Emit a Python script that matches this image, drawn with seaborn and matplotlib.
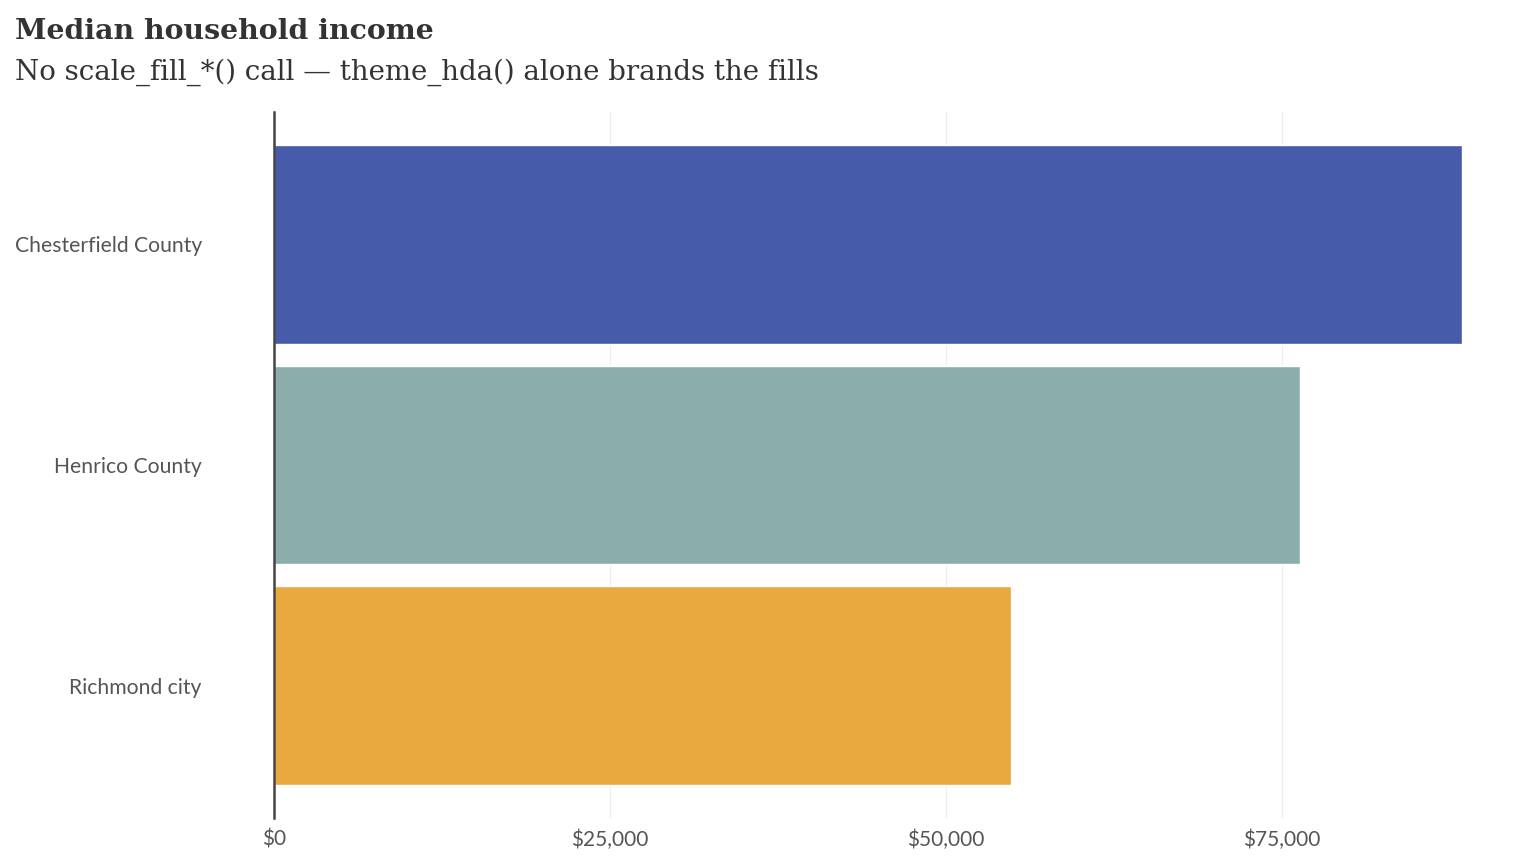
import numpy as np
import pandas as pd
import matplotlib
matplotlib.use('Agg')
import matplotlib.pyplot as plt
import seaborn as sns
from matplotlib.ticker import FuncFormatter

counties = ['Chesterfield County', 'Henrico County', 'Richmond city']
income = [88400, 76400, 54850]
bar_colors = ['#465CAA', '#8BADAB', '#E9A93E']
x_ticks = [0, 25000, 50000, 75000]

df = pd.DataFrame({'county': counties, 'income': income})

sns.set_theme(style='white')
plt.rcParams['font.family'] = ['Lato', 'DejaVu Sans']

fig = plt.figure(figsize=(15.36, 8.65), dpi=100)
ax = fig.add_axes([274 / 1536, 1 - 818 / 865, (1521 - 274) / 1536, (818 - 112) / 865])

sns.barplot(data=df, y='county', x='income', hue='county', palette=bar_colors,
            order=counties, width=0.9, saturation=1, legend=False, ax=ax)

ax.set_xlim(0, max(income) * 1.05)
ax.set_ylim(len(counties) - 0.4, -0.6)
ax.set_xticks(x_ticks)
ax.xaxis.set_major_formatter(FuncFormatter(lambda v, p: '${:,.0f}'.format(v)))
ax.grid(axis='x', color='#ececec', linewidth=0.8)
ax.set_axisbelow(True)
ax.set_xlabel('')
ax.set_ylabel('')
for s in ['top', 'right', 'bottom']:
    ax.spines[s].set_visible(False)
ax.spines['left'].set_color('#444444')
ax.spines['left'].set_linewidth(1.8)
ax.tick_params(axis='both', length=0, labelsize=15, colors='#555555')
ax.tick_params(axis='y', labelsize=15.2, pad=52)
ax.tick_params(axis='x', pad=8.5)

fig.text(15 / 1536, 1 - 39 / 865, 'Median household income', fontsize=20.4,
         fontweight='bold', family=['DejaVu Serif'], color='#333333')
fig.text(15 / 1536, 1 - 80 / 865, 'No scale_fill_*() call \u2014 theme_hda() alone brands the fills',
         fontsize=19.9, family=['DejaVu Serif'], color='#333333')

fig.savefig('out.png', dpi=100)
